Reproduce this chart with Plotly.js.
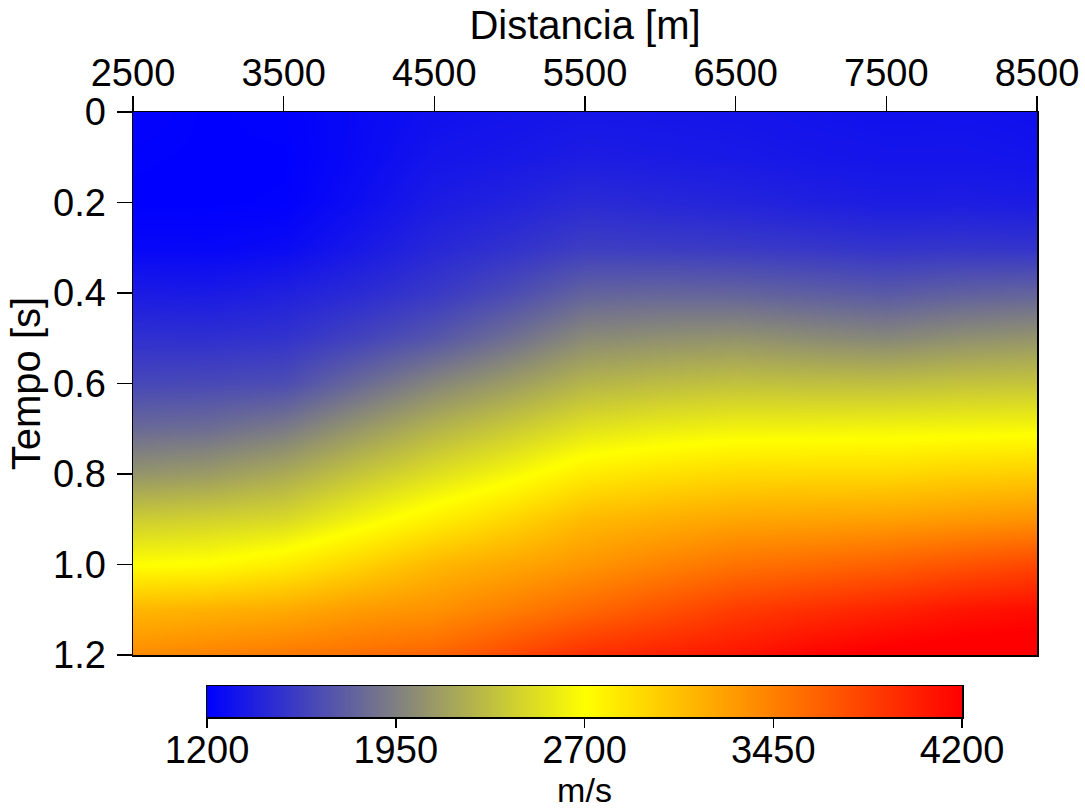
<!DOCTYPE html>
<html>
<head>
<meta charset="utf-8">
<script src="https://cdn.plot.ly/plotly-3.0.1.min.js"></script>
<style>
  html, body { margin: 0; padding: 0; background: #fff; }
  #chart { width: 1085px; height: 811px; }
</style>
</head>
<body>
<div id="chart"></div>
<script>
// Distance samples along the line (m)
const distancia = [2500, 3000, 3500, 4000, 4500, 5000, 5500, 6000, 6500, 7000, 7500, 8000, 8500];

// Two-way time samples (s)
const tempo = [0.0, 0.1, 0.2, 0.3, 0.4, 0.5, 0.6, 0.7, 0.8, 0.9, 1.0, 1.1, 1.2];

// Interval velocity (m/s): one row per time sample, one column per distance sample
const velocidade = [
  [1220, 1200, 1210, 1250, 1290, 1310, 1330, 1325, 1320, 1305, 1295, 1300, 1290],
  [1205, 1200, 1200, 1255, 1320, 1340, 1365, 1355, 1345, 1330, 1320, 1320, 1310],
  [1200, 1200, 1205, 1280, 1360, 1400, 1450, 1430, 1410, 1385, 1365, 1370, 1360],
  [1240, 1235, 1260, 1340, 1430, 1490, 1560, 1550, 1540, 1520, 1500, 1510, 1500],
  [1355, 1350, 1387, 1450, 1530, 1640, 1775, 1790, 1780, 1750, 1720, 1760, 1780],
  [1480, 1475, 1495, 1590, 1700, 1850, 2010, 2040, 2060, 2020, 1990, 2040, 2070],
  [1620, 1630, 1650, 1820, 1985, 2120, 2265, 2310, 2340, 2330, 2325, 2350, 2360],
  [1820, 1840, 1920, 2090, 2255, 2390, 2530, 2590, 2625, 2630, 2640, 2650, 2660],
  [2070, 2110, 2200, 2360, 2510, 2650, 2815, 2880, 2925, 2930, 2930, 2970, 2990],
  [2400, 2430, 2470, 2630, 2790, 2940, 3105, 3170, 3225, 3240, 3260, 3300, 3340],
  [2700, 2720, 2810, 2960, 3120, 3220, 3320, 3430, 3530, 3580, 3640, 3720, 3790],
  [3130, 3160, 3200, 3290, 3345, 3460, 3590, 3720, 3850, 3930, 4000, 4080, 4130],
  [3380, 3430, 3490, 3550, 3610, 3770, 3930, 4010, 4080, 4180, 4250, 4280, 4300]
];

// Axis ticks
const distanciaTicks = [2500, 3500, 4500, 5500, 6500, 7500, 8500];
const tempoTicks = [0, 0.2, 0.4, 0.6, 0.8, 1.0, 1.2];
const tempoTickText = ['0', '0.2', '0.4', '0.6', '0.8', '1.0', '1.2'];
const velTicks = [1200, 1950, 2700, 3450, 4200];

const FONT = 'Liberation Sans, Arial, Helvetica, sans-serif';
const W = 1085, H = 811;

// Pixel frame of the section and of the velocity scale bar
const M = { l: 133, r: 48, t: 112, b: 94 };
const paperW = W - M.l - M.r;           // 904
const paperH = H - M.t - M.b;           // 605
const secBottom = 655, barTop = 686, barBottom = 717, barLeft = 207, barRight = 962;

const escala = [
  [0.00, 'rgb(0,0,255)'],
  [0.25, 'rgb(128,128,128)'],
  [0.50, 'rgb(255,255,0)'],
  [1.00, 'rgb(255,0,0)']
];

const secao = {
  type: 'heatmap',
  x: distancia,
  y: tempo,
  z: velocidade,
  zmin: velTicks[0],
  zmax: velTicks[velTicks.length - 1],
  zsmooth: 'best',
  colorscale: escala,
  showscale: false,
  xaxis: 'x', yaxis: 'y',
  hoverinfo: 'x+y+z'
};

// Velocity scale bar: the tick values painted along their own axis
const barra = {
  type: 'heatmap',
  x: velTicks,
  y: [0, 1],
  z: [velTicks, velTicks],
  zmin: velTicks[0],
  zmax: velTicks[velTicks.length - 1],
  zsmooth: 'best',
  colorscale: escala,
  showscale: false,
  xaxis: 'x2', yaxis: 'y2',
  hoverinfo: 'z'
};

const tickFont = { family: FONT, size: 38, color: '#000' };
const titleFont = { family: FONT, size: 40, color: '#000' };

const layout = {
  width: W,
  height: H,
  margin: { l: M.l, r: M.r, t: M.t, b: M.b, pad: 0, autoexpand: false },
  paper_bgcolor: '#fff',
  plot_bgcolor: '#fff',
  font: { family: FONT, size: 38, color: '#000' },
  showlegend: false,
  xaxis: {
    domain: [0, 1],
    anchor: 'y',
    side: 'top',
    range: [distancia[0], distancia[distancia.length - 1]],
    tickvals: distanciaTicks,
    ticks: 'outside', ticklen: 15, tickwidth: 1.5, tickcolor: '#000',
    ticklabelstandoff: -6,
    showline: true, linecolor: '#000', linewidth: 1.5, mirror: true,
    showgrid: false, zeroline: false,
    tickfont: tickFont,
    title: { text: 'Distancia [m]', standoff: 0, font: titleFont }
  },
  yaxis: {
    domain: [(barBottom - secBottom) / paperH, 1],
    anchor: 'x',
    range: [tempo[tempo.length - 1], tempo[0]],
    tickvals: tempoTicks,
    ticktext: tempoTickText,
    ticks: 'outside', ticklen: 15, tickwidth: 1.5, tickcolor: '#000',
    ticklabelstandoff: 3,
    showline: true, linecolor: '#000', linewidth: 1.5, mirror: true,
    showgrid: false, zeroline: false,
    tickfont: tickFont,
    title: { text: 'Tempo [s]', standoff: 0, font: titleFont }
  },
  xaxis2: {
    domain: [(barLeft - M.l) / paperW, (barRight - M.l) / paperW],
    anchor: 'y2',
    side: 'bottom',
    range: [velTicks[0], velTicks[velTicks.length - 1]],
    tickvals: velTicks,
    ticks: 'outside', ticklen: 9, tickwidth: 1.5, tickcolor: '#000',
    ticklabelstandoff: -10,
    showline: true, linecolor: '#000', linewidth: 1.5, mirror: true,
    showgrid: false, zeroline: false,
    tickfont: tickFont,
    title: { text: 'm/s', standoff: 6, font: { family: FONT, size: 34, color: '#000' } }
  },
  yaxis2: {
    domain: [0, (barBottom - barTop) / paperH],
    anchor: 'x2',
    range: [0, 1],
    showticklabels: false,
    ticks: '',
    showline: true, linecolor: '#000', linewidth: 1.5, mirror: true,
    showgrid: false, zeroline: false
  }
};

Plotly.newPlot('chart', [secao, barra], layout, { staticPlot: true, displayModeBar: false });
</script>
</body>
</html>
